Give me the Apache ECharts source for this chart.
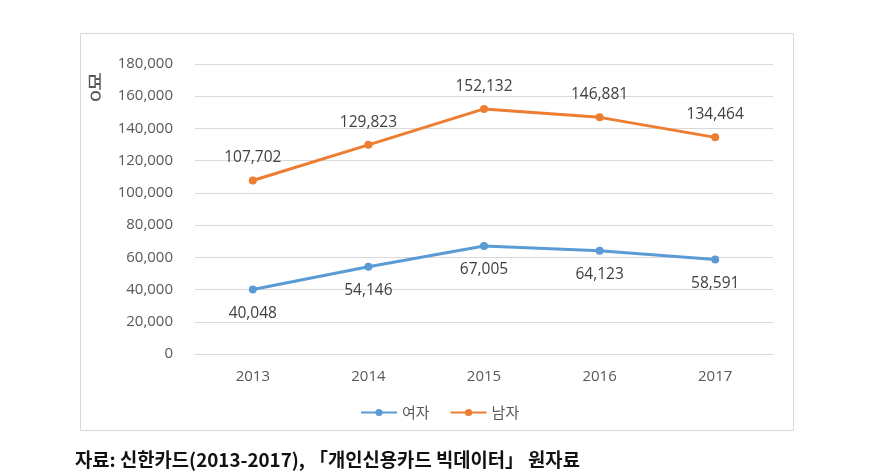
<!DOCTYPE html>
<html><head><meta charset="utf-8">
<script src="https://cdn.jsdelivr.net/npm/echarts@6/dist/echarts.min.js"></script>
<style>html,body{margin:0;padding:0;background:#fff;}#c{width:894px;height:474px;}</style>
</head><body><div id="c"></div>
<script>
const categories = ['2013', '2014', '2015', '2016', '2017'];
const female = [40048, 54146, 67005, 64123, 58591];
const male = [107702, 129823, 152132, 146881, 134464];
const seriesNames = ['여자', '남자'];
const yTicks = { min: 0, max: 180000, interval: 20000 };
const axisName = '명';
const sourceNote = '자료: 신한카드(2013-2017), 「개인신용카드 빅데이터」 원자료';

const chart = echarts.init(document.getElementById('c'));
const fmt = v => v.toLocaleString('en-US');
const font = '"Open Sans", "Noto Sans CJK KR", sans-serif';
chart.setOption({
  animation: false,
  textStyle: { fontFamily: font },
  graphic: [
    { type: 'rect', shape: { x: 80.5, y: 33.5, width: 713, height: 397 }, style: { fill: 'none', stroke: '#d9d9d9', lineWidth: 1 }, silent: true },
    { type: 'text', x: 95, y: 87, scaleX: 1, scaleY: 1.75, silent: true,
      style: { text: axisName, fontSize: 17, fill: '#595959', align: 'center', verticalAlign: 'middle', fontFamily: '"Noto Sans CJK KR", sans-serif' } },
    { type: 'text', left: 75, top: 450, silent: true,
      style: { text: sourceNote, fontSize: 18.8, fontWeight: 'bold', fill: '#111', fontFamily: '"Noto Sans CJK KR", sans-serif' } }
  ],
  grid: { left: 195, right: 121, top: 64, bottom: 120 },
  legend: {
    data: seriesNames, left: 355, top: 400, itemWidth: 36, itemHeight: 9, itemGap: 20,
    textStyle: { color: '#595959', fontSize: 15, fontFamily: '"Noto Sans CJK KR", sans-serif' }
  },
  xAxis: {
    type: 'category', data: categories, boundaryGap: true,
    axisLine: { show: true, lineStyle: { color: '#d9d9d9' } }, axisTick: { show: false },
    axisLabel: { color: '#595959', fontSize: 15, margin: 15 }
  },
  yAxis: {
    type: 'value', min: yTicks.min, max: yTicks.max, interval: yTicks.interval,
    axisLine: { show: false }, axisTick: { show: false },
    splitLine: { lineStyle: { color: '#d9d9d9' } },
    axisLabel: { color: '#595959', fontSize: 15, margin: 22, formatter: v => fmt(v) }
  },
  series: [
    { name: seriesNames[0], type: 'line', data: female, symbol: 'circle', symbolSize: 8,
      lineStyle: { width: 3, color: '#5B9BD5' }, itemStyle: { color: '#5B9BD5' },
      label: { show: true, position: 'bottom', distance: 12, color: '#404040', fontSize: 15.5, formatter: p => fmt(p.value) } },
    { name: seriesNames[1], type: 'line', data: male, symbol: 'circle', symbolSize: 8,
      lineStyle: { width: 3, color: '#ED7D31' }, itemStyle: { color: '#ED7D31' },
      label: { show: true, position: 'top', distance: 11, color: '#404040', fontSize: 15.5, formatter: p => fmt(p.value) } }
  ]
});
</script></body></html>
